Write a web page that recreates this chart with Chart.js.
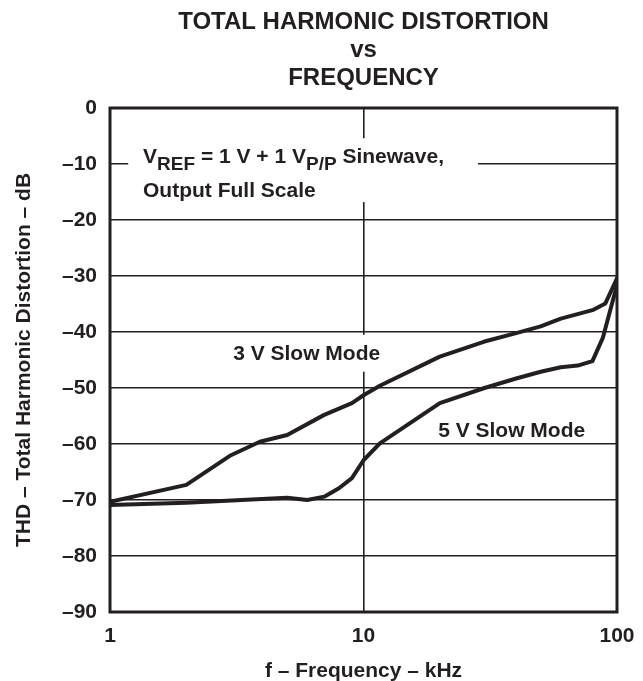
<!DOCTYPE html>
<html>
<head>
<meta charset="utf-8">
<script src="https://cdn.jsdelivr.net/npm/chart.js@4.4.1/dist/chart.umd.min.js"></script>
<style>
  html, body { margin: 0; padding: 0; background: #fff; }
  canvas { display: block; }
</style>
</head>
<body>
<canvas id="thdChart" width="643" height="681"></canvas>
<script>
const titleLines = ['TOTAL HARMONIC DISTORTION', 'vs', 'FREQUENCY'];
const xTicks = [1, 10, 100];
const yTicks = [0, -10, -20, -30, -40, -50, -60, -70, -80, -90];

// 3 V slow mode (upper curve)
const freq3V = [1, 2, 3, 3.9, 5, 7, 9, 10, 11.6, 20, 30, 40, 50, 60, 80, 90, 100];
const thd3V = [-70.3, -67.3, -62, -59.6, -58.4, -54.8, -52.7, -51.3, -49.6, -44.4, -41.7, -40.2, -39, -37.6, -36.1, -34.9, -30.4];

// 5 V slow mode (lower curve)
const freq5V = [1, 2, 5, 6, 7, 8, 9, 10, 11.6, 20, 30, 40, 50, 60, 70, 80, 88, 100];
const thd5V = [-70.9, -70.5, -69.6, -70, -69.4, -67.9, -66.1, -62.9, -59.9, -52.7, -50, -48.3, -47.1, -46.3, -46, -45.2, -41, -31.6];

const ink = '#231f20';
const family = "'Liberation Sans', Arial, Helvetica, sans-serif";
const bold = (size) => ({ family: family, size: size, weight: 'bold' });

const pairs = (xs, ys) => xs.map((v, i) => ({ x: v, y: ys[i] }));
const dash = '\u2013';

// labels drawn inside the plot, with white patches behind them
const notes = {
  id: 'notes',
  beforeDatasetsDraw(chart) {
    const { ctx, scales: { x, y } } = chart;
    const patch = (f1, f2, d1, d2) => {
      const l = x.getPixelForValue(f1), r = x.getPixelForValue(f2);
      const t = y.getPixelForValue(d1), b = y.getPixelForValue(d2);
      ctx.fillRect(l, t, r - l, b - t);
    };
    ctx.save();
    ctx.fillStyle = '#fff';
    patch(1.18, 28.3, -5.4, -16.8);
    patch(2.92, 12.3, -40.5, -47.1);

    ctx.fillStyle = ink;
    ctx.textBaseline = 'alphabetic';
    ctx.textAlign = 'left';

    // V_REF = 1 V + 1 V_P/P Sinewave,
    let px = x.getPixelForValue(1.35);
    const py = y.getPixelForValue(-9.8);
    const parts = [['V', 0], ['REF', 1], [' = 1 V + 1 V', 0], ['P/P', 1], [' Sinewave,', 0]];
    parts.forEach(([txt, sub]) => {
      ctx.font = sub ? `bold 19px ${family}` : `bold 21px ${family}`;
      ctx.fillText(txt, px, py + (sub ? 7 : 0));
      px += ctx.measureText(txt).width;
    });
    ctx.font = `bold 21px ${family}`;
    ctx.fillText('Output Full Scale', x.getPixelForValue(1.35), y.getPixelForValue(-15.9));

    ctx.fillText('3 V Slow Mode', x.getPixelForValue(3.06), y.getPixelForValue(-45));
    ctx.fillText('5 V Slow Mode', x.getPixelForValue(19.7), y.getPixelForValue(-58.7));
    ctx.restore();
  },
  afterDatasetsDraw(chart) {
    const { ctx, chartArea: a } = chart;
    ctx.save();
    ctx.strokeStyle = ink;
    ctx.lineWidth = 3;
    ctx.strokeRect(a.left, a.top, a.right - a.left, a.bottom - a.top);
    ctx.restore();
  }
};

const curve = (label, data) => ({
  label: label,
  data: data,
  showLine: true,
  borderColor: ink,
  borderWidth: 4,
  borderJoinStyle: 'round',
  borderCapStyle: 'round',
  pointRadius: 0,
  tension: 0,
  fill: false
});

new Chart(document.getElementById('thdChart'), {
  type: 'scatter',
  data: {
    datasets: [
      curve('3 V Slow Mode', pairs(freq3V, thd3V)),
      curve('5 V Slow Mode', pairs(freq5V, thd5V))
    ]
  },
  options: {
    responsive: false,
    devicePixelRatio: 1,
    animation: false,
    layout: { padding: { left: 0, right: 26, top: 0, bottom: 0 } },
    plugins: {
      legend: { display: false },
      tooltip: { enabled: false },
      title: {
        display: true,
        text: titleLines,
        fullSize: false,
        color: ink,
        font: { family: family, size: 24, weight: 'bold', lineHeight: 28 / 24 },
        padding: { top: 8, bottom: 16 }
      }
    },
    scales: {
      x: {
        type: 'logarithmic',
        min: 1,
        max: 100,
        afterBuildTicks: (s) => { s.ticks = xTicks.map(v => ({ value: v })); },
        afterFit: (s) => {
          s.height = 69;
          s.paddingLeft = 0;
          s.paddingRight = 0;
        },
        ticks: {
          callback: (v) => String(v),
          color: ink,
          font: bold(21),
          padding: 12,
          maxRotation: 0,
          autoSkip: false
        },
        grid: { color: ink, lineWidth: 1.6, drawTicks: false },
        border: { display: false },
        title: {
          display: true,
          text: 'f ' + dash + ' Frequency ' + dash + ' kHz',
          color: ink,
          font: bold(21),
          padding: { top: 0, bottom: -3 }
        }
      },
      y: {
        type: 'linear',
        min: -90,
        max: 0,
        afterBuildTicks: (s) => { s.ticks = yTicks.map(v => ({ value: v })); },
        afterFit: (s) => { s.width = 110; },
        ticks: {
          callback: (v) => (v === 0 ? '0' : dash + Math.abs(v)),
          color: ink,
          font: bold(21),
          padding: 13
        },
        grid: { color: ink, lineWidth: 1.6, drawTicks: false },
        border: { display: false },
        title: {
          display: true,
          text: 'THD ' + dash + ' Total Harmonic Distortion ' + dash + ' dB',
          color: ink,
          font: bold(21),
          padding: { top: 12, bottom: 0 }
        }
      }
    }
  },
  plugins: [notes]
});
</script>
</body>
</html>
